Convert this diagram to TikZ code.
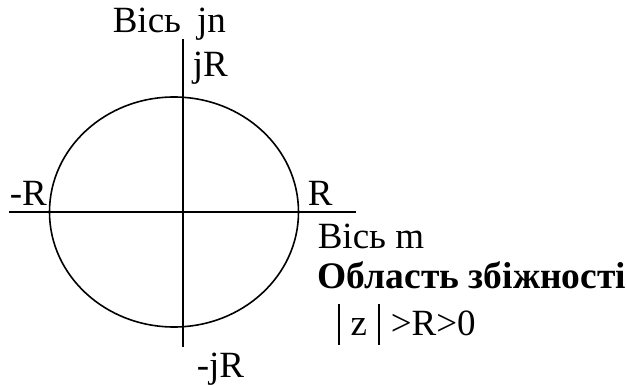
\documentclass[tikz,border=0pt]{standalone}
\usepackage{fontspec}
\setmainfont{Liberation Serif}
\begin{document}
\begin{tikzpicture}[x=1pt, y=-1pt, line width=1.6pt,
        lbl/.style={anchor=base west, inner sep=0pt, font=\fontsize{37}{44}\selectfont}]
        \useasboundingbox (0,0) rectangle (627,385);
        % axes
        \coordinate (vtop) at (183,39);
        \coordinate (vbot) at (183,347);
        \coordinate (hleft) at (9,212);
        \coordinate (hright) at (356,212);
        \draw (vtop) -- (vbot);
        \draw (hleft) -- (hright);
        \draw (174,212) ellipse[x radius=124.5, y radius=115];
        % labels
        \node[lbl] (vaxname) at (112,33) {Вісь\hspace{16pt}jn};
        \node[lbl] (jR) at (192,77) {jR};
        \node[lbl] (mR) at (9,205) {-R};
        \node[lbl] (pR) at (307,205) {R};
        \node[lbl] (haxname) at (317,248) {Вісь m};
        \node[lbl] (region) at (317,288) {\fontsize{37.5}{44}\selectfont\bfseries Область збіжності};
        \node[lbl] (cond) at (337,335) {\rule[-10pt]{1.8pt}{41pt}\hspace{11pt}z\hspace{11pt}\rule[-10pt]{1.8pt}{41pt}\hspace{11pt}>R>0};
        \node[lbl] (mjR) at (196,377) {-jR};
    \end{tikzpicture}
\end{document}
